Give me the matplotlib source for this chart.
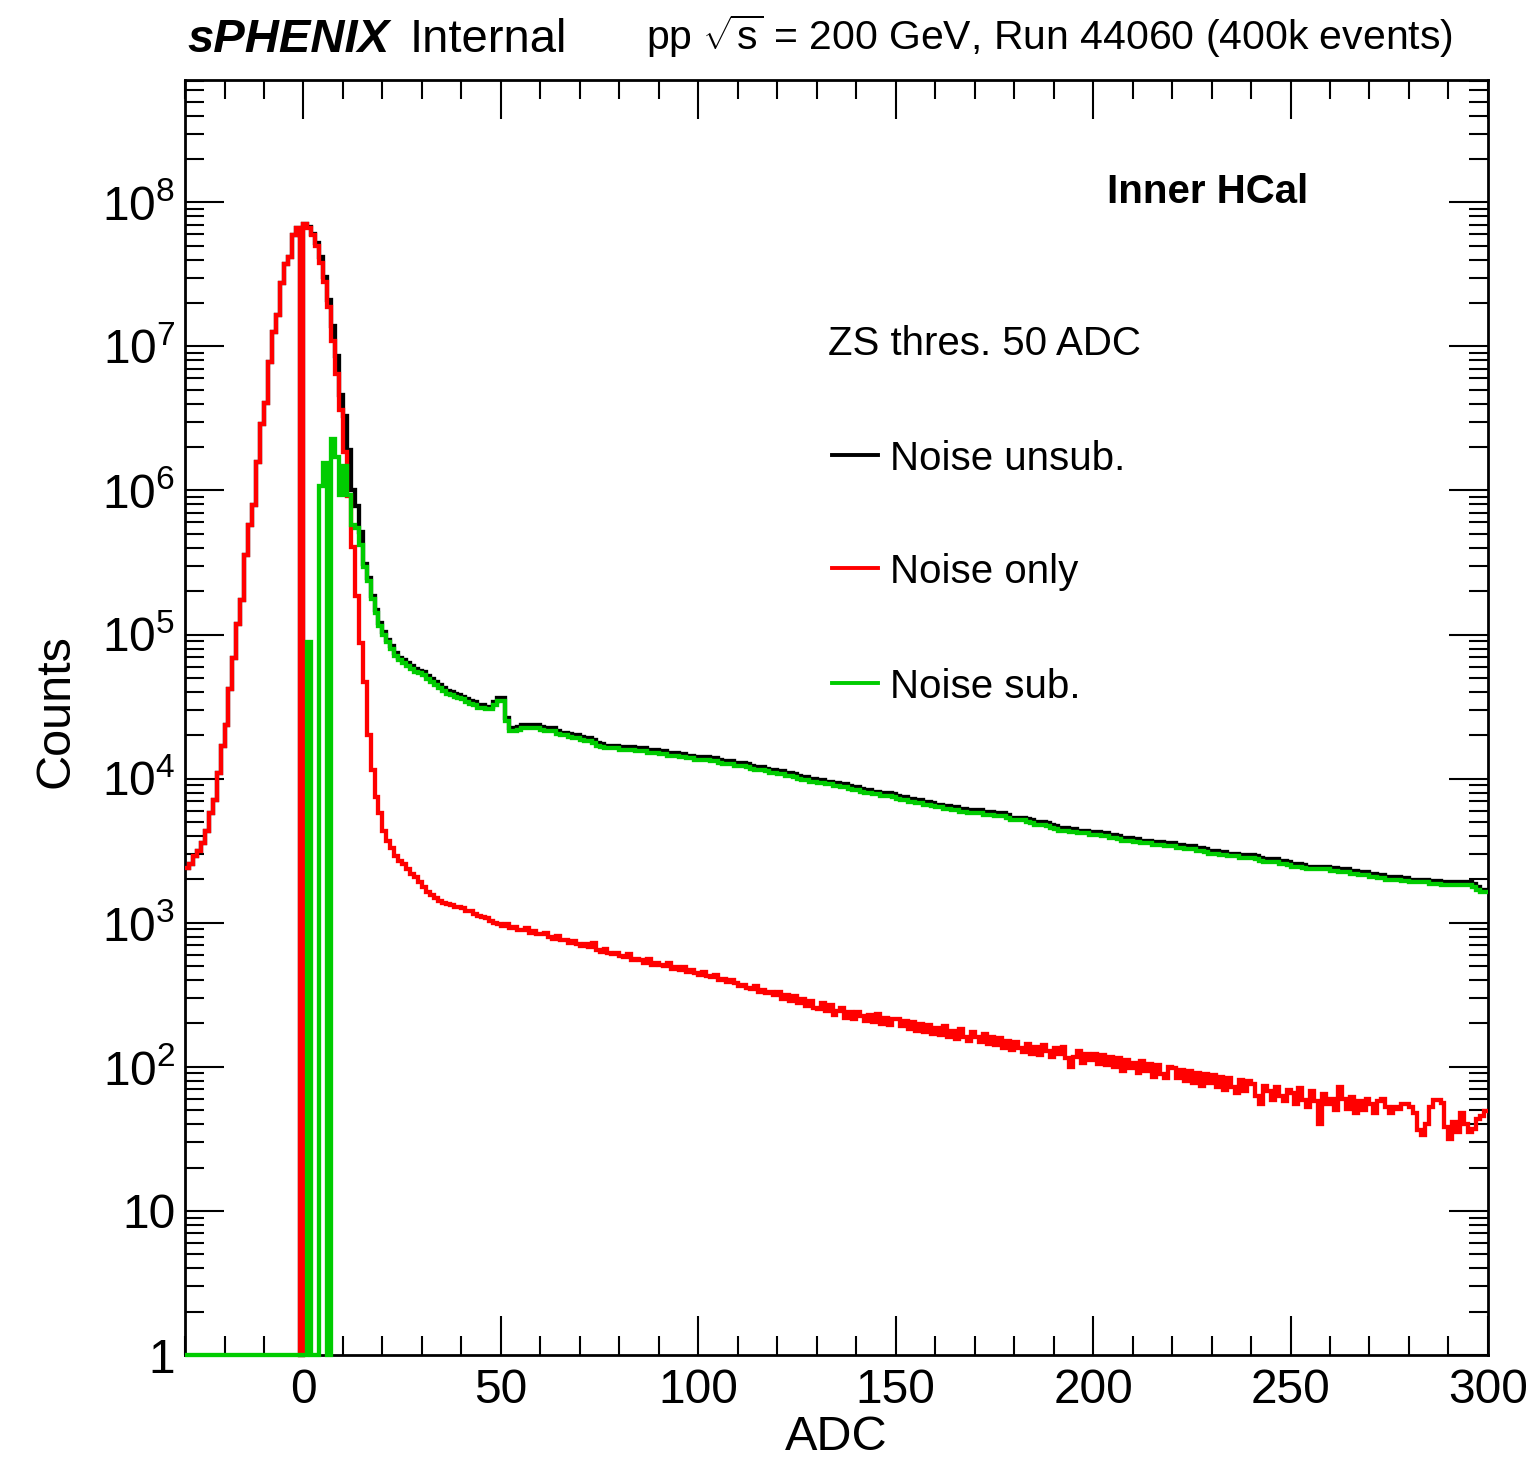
import numpy as np
import matplotlib
matplotlib.use("Agg")
import matplotlib.pyplot as plt
from matplotlib.ticker import FixedLocator, FixedFormatter, LogLocator, MultipleLocator, NullFormatter

plt.rcParams['font.family'] = ['Liberation Sans', 'DejaVu Sans']
plt.rcParams['mathtext.fontset'] = 'custom'
plt.rcParams['mathtext.rm'] = 'Liberation Sans'
plt.rcParams['mathtext.it'] = 'Liberation Sans:italic'
plt.rcParams['mathtext.bf'] = 'Liberation Sans:bold'

# 1-ADC bins from -30 to 300, values are log10(counts), None = empty bin
adc_lo, adc_hi = -30, 300

noise_unsub = [
    3.38, 3.41, 3.46, 3.50, 3.55, 3.64, 3.76, 3.85, 4.04, 4.23,
    4.37, 4.62, 4.84, 5.07, 5.24, 5.55, 5.76, 5.90, 6.20, 6.46,
    6.61, 6.89, 7.10, 7.22, 7.44, 7.57, 7.62, 7.77, 7.82, None,
    7.85, 7.83, 7.78, 7.72, 7.62, 7.48, 7.32, 7.14, 6.93, 6.66,
    6.52, 6.28, 6.00, 5.89, 5.71, 5.49, 5.39, 5.27, 5.17, 5.08,
    5.02, 4.96, 4.92, 4.87, 4.84, 4.82, 4.80, 4.78, 4.76, 4.75,
    4.74, 4.71, 4.69, 4.67, 4.65, 4.63, 4.61, 4.60, 4.59, 4.58,
    4.57, 4.55, 4.54, 4.53, 4.51, 4.51, 4.50, 4.50, 4.53, 4.56,
    4.56, 4.42, 4.35, 4.35, 4.36, 4.37, 4.37, 4.37, 4.37, 4.37,
    4.36, 4.35, 4.35, 4.35, 4.33, 4.32, 4.32, 4.31, 4.30, 4.30,
    4.29, 4.28, 4.28, 4.27, 4.25, 4.24, 4.23, 4.23, 4.23, 4.23,
    4.22, 4.22, 4.22, 4.22, 4.21, 4.21, 4.21, 4.20, 4.20, 4.20,
    4.19, 4.19, 4.18, 4.18, 4.18, 4.17, 4.17, 4.16, 4.16, 4.15,
    4.15, 4.15, 4.15, 4.14, 4.14, 4.13, 4.12, 4.12, 4.12, 4.11,
    4.11, 4.11, 4.10, 4.09, 4.08, 4.08, 4.08, 4.07, 4.06, 4.06,
    4.05, 4.05, 4.04, 4.04, 4.03, 4.02, 4.01, 4.01, 4.00, 4.00,
    3.99, 3.99, 3.98, 3.98, 3.97, 3.97, 3.96, 3.96, 3.95, 3.94,
    3.94, 3.93, 3.92, 3.92, 3.91, 3.91, 3.90, 3.90, 3.90, 3.89,
    3.88, 3.87, 3.87, 3.86, 3.86, 3.85, 3.85, 3.84, 3.84, 3.83,
    3.82, 3.82, 3.81, 3.81, 3.80, 3.80, 3.79, 3.79, 3.78, 3.78,
    3.78, 3.78, 3.77, 3.77, 3.77, 3.76, 3.76, 3.76, 3.75, 3.73,
    3.73, 3.73, 3.73, 3.72, 3.71, 3.70, 3.70, 3.70, 3.69, 3.68,
    3.67, 3.66, 3.66, 3.66, 3.65, 3.65, 3.64, 3.64, 3.64, 3.63,
    3.63, 3.63, 3.62, 3.62, 3.61, 3.61, 3.60, 3.59, 3.59, 3.59,
    3.58, 3.58, 3.57, 3.57, 3.57, 3.56, 3.56, 3.56, 3.55, 3.55,
    3.55, 3.54, 3.54, 3.53, 3.53, 3.53, 3.52, 3.52, 3.51, 3.50,
    3.50, 3.50, 3.49, 3.49, 3.48, 3.48, 3.48, 3.47, 3.47, 3.47,
    3.47, 3.46, 3.45, 3.44, 3.44, 3.44, 3.44, 3.43, 3.43, 3.42,
    3.41, 3.41, 3.41, 3.40, 3.39, 3.39, 3.39, 3.39, 3.39, 3.39,
    3.38, 3.38, 3.37, 3.37, 3.37, 3.36, 3.36, 3.35, 3.35, 3.35,
    3.34, 3.34, 3.33, 3.33, 3.32, 3.32, 3.32, 3.32, 3.31, 3.31,
    3.30, 3.30, 3.30, 3.30, 3.30, 3.29, 3.29, 3.29, 3.28, 3.28,
    3.28, 3.28, 3.28, 3.28, 3.28, 3.28, 3.27, 3.25, 3.23, 3.23,
]

noise_only = [
    3.38, 3.41, 3.46, 3.50, 3.55, 3.64, 3.76, 3.85, 4.04, 4.23,
    4.37, 4.62, 4.84, 5.07, 5.24, 5.55, 5.76, 5.90, 6.20, 6.46,
    6.61, 6.89, 7.10, 7.22, 7.44, 7.57, 7.62, 7.77, 7.82, None,
    7.85, 7.82, 7.77, 7.70, 7.58, 7.45, 7.27, 7.04, 6.81, 6.56,
    6.27, 5.96, 5.61, 5.27, 4.94, 4.67, 4.30, 4.06, 3.87, 3.76,
    3.64, 3.57, 3.52, 3.46, 3.43, 3.41, 3.37, 3.34, 3.32, 3.28,
    3.25, 3.21, 3.19, 3.17, 3.15, 3.14, 3.13, 3.12, 3.11, 3.11,
    3.10, 3.08, 3.08, 3.06, 3.05, 3.04, 3.03, 3.01, 3.00, 2.99,
    2.98, 2.99, 2.96, 2.97, 2.95, 2.95, 2.96, 2.93, 2.94, 2.92,
    2.92, 2.93, 2.90, 2.89, 2.91, 2.88, 2.88, 2.86, 2.87, 2.85,
    2.84, 2.85, 2.83, 2.86, 2.81, 2.80, 2.82, 2.79, 2.78, 2.79,
    2.77, 2.76, 2.78, 2.74, 2.75, 2.74, 2.72, 2.75, 2.71, 2.72,
    2.71, 2.70, 2.72, 2.68, 2.69, 2.67, 2.69, 2.66, 2.67, 2.65,
    2.64, 2.66, 2.63, 2.62, 2.64, 2.60, 2.61, 2.59, 2.60, 2.58,
    2.56, 2.57, 2.55, 2.54, 2.56, 2.52, 2.53, 2.51, 2.52, 2.50,
    2.52, 2.47, 2.50, 2.46, 2.49, 2.44, 2.47, 2.42, 2.46, 2.41,
    2.40, 2.44, 2.39, 2.43, 2.36, 2.39, 2.41, 2.34, 2.38, 2.33,
    2.38, 2.35, 2.32, 2.36, 2.31, 2.37, 2.30, 2.34, 2.29, 2.33,
    2.33, 2.28, 2.32, 2.26, 2.31, 2.25, 2.30, 2.24, 2.29, 2.23,
    2.27, 2.22, 2.28, 2.21, 2.25, 2.19, 2.26, 2.21, 2.18, 2.24,
    2.21, 2.17, 2.23, 2.16, 2.21, 2.15, 2.20, 2.13, 2.18, 2.12,
    2.17, 2.13, 2.10, 2.16, 2.09, 2.14, 2.08, 2.15, 2.11, 2.07,
    2.13, 2.09, 2.14, 2.06, 2.00, 2.07, 2.11, 2.03, 2.09, 2.05,
    2.09, 2.02, 2.08, 2.01, 2.07, 2.00, 2.06, 1.97, 2.05, 1.99,
    2.03, 1.96, 2.04, 1.97, 2.02, 1.93, 2.01, 1.95, 1.92, 2.00,
    1.99, 1.92, 1.98, 1.90, 1.97, 1.89, 1.96, 1.87, 1.95, 1.89,
    1.94, 1.86, 1.93, 1.84, 1.92, 1.86, 1.82, 1.91, 1.83, 1.90,
    1.88, 1.80, 1.74, 1.87, 1.83, 1.77, 1.86, 1.80, 1.76, 1.84,
    1.82, 1.74, 1.85, 1.77, 1.72, 1.83, 1.76, 1.60, 1.81, 1.74,
    1.78, 1.70, 1.86, 1.78, 1.71, 1.79, 1.68, 1.76, 1.70, 1.78,
    1.74, 1.68, 1.76, 1.78, 1.72, 1.68, 1.72, 1.71, 1.74, 1.74,
    1.72, 1.68, 1.56, 1.53, 1.60, 1.72, 1.77, 1.77, 1.75, 1.58,
    1.50, 1.62, 1.55, 1.68, 1.60, 1.55, 1.57, 1.64, 1.66, 1.69,
]

noise_sub = [
    None, None, None, None, None, None, None, None, None, None,
    None, None, None, None, None, None, None, None, None, None,
    None, None, None, None, None, None, None, None, None, None,
    None, 4.95, None, None, 6.03, 6.19, None, 6.36, 6.23, 5.97,
    6.17, 5.97, 5.76, 5.74, 5.62, 5.47, 5.37, 5.25, 5.15, 5.06,
    5.00, 4.95, 4.90, 4.85, 4.82, 4.80, 4.78, 4.76, 4.74, 4.73,
    4.72, 4.69, 4.67, 4.65, 4.63, 4.61, 4.59, 4.58, 4.57, 4.56,
    4.55, 4.53, 4.52, 4.51, 4.49, 4.49, 4.48, 4.48, 4.51, 4.54,
    4.54, 4.40, 4.33, 4.33, 4.34, 4.35, 4.35, 4.35, 4.35, 4.35,
    4.34, 4.33, 4.33, 4.33, 4.31, 4.30, 4.30, 4.29, 4.28, 4.28,
    4.27, 4.26, 4.26, 4.25, 4.23, 4.22, 4.21, 4.21, 4.21, 4.21,
    4.20, 4.20, 4.20, 4.20, 4.19, 4.19, 4.19, 4.18, 4.18, 4.18,
    4.17, 4.17, 4.16, 4.16, 4.16, 4.15, 4.15, 4.14, 4.14, 4.13,
    4.13, 4.13, 4.13, 4.12, 4.12, 4.11, 4.10, 4.10, 4.10, 4.09,
    4.09, 4.09, 4.08, 4.07, 4.06, 4.06, 4.06, 4.05, 4.04, 4.04,
    4.03, 4.03, 4.02, 4.02, 4.01, 4.00, 3.99, 3.99, 3.98, 3.98,
    3.97, 3.97, 3.96, 3.96, 3.95, 3.95, 3.94, 3.94, 3.93, 3.92,
    3.92, 3.91, 3.90, 3.90, 3.89, 3.89, 3.88, 3.88, 3.88, 3.87,
    3.86, 3.85, 3.85, 3.84, 3.84, 3.83, 3.83, 3.82, 3.82, 3.81,
    3.80, 3.80, 3.79, 3.79, 3.78, 3.78, 3.77, 3.77, 3.76, 3.76,
    3.76, 3.76, 3.75, 3.75, 3.75, 3.74, 3.74, 3.74, 3.73, 3.71,
    3.71, 3.71, 3.71, 3.70, 3.69, 3.68, 3.68, 3.68, 3.67, 3.66,
    3.65, 3.64, 3.64, 3.64, 3.63, 3.63, 3.62, 3.62, 3.62, 3.61,
    3.61, 3.61, 3.60, 3.60, 3.59, 3.59, 3.58, 3.57, 3.57, 3.57,
    3.56, 3.56, 3.55, 3.55, 3.55, 3.54, 3.54, 3.54, 3.53, 3.53,
    3.53, 3.52, 3.52, 3.51, 3.51, 3.51, 3.50, 3.50, 3.49, 3.48,
    3.48, 3.48, 3.47, 3.47, 3.46, 3.46, 3.46, 3.45, 3.45, 3.45,
    3.45, 3.44, 3.43, 3.42, 3.42, 3.42, 3.42, 3.41, 3.41, 3.40,
    3.39, 3.39, 3.39, 3.38, 3.37, 3.37, 3.37, 3.37, 3.37, 3.37,
    3.36, 3.36, 3.35, 3.35, 3.35, 3.34, 3.34, 3.33, 3.33, 3.33,
    3.32, 3.32, 3.31, 3.31, 3.30, 3.30, 3.30, 3.30, 3.29, 3.29,
    3.28, 3.28, 3.28, 3.28, 3.28, 3.27, 3.27, 3.27, 3.26, 3.26,
    3.26, 3.26, 3.26, 3.26, 3.26, 3.26, 3.25, 3.23, 3.21, 3.21,
]

series_labels = ["Noise unsub.", "Noise only", "Noise sub."]
series_colors = ["#000000", "#ff0000", "#00cc00"]
ytick_values = [1, 10, 1e2, 1e3, 1e4, 1e5, 1e6, 1e7, 1e8]
ytick_labels = ["1", "10", "$10^{2}$", "$10^{3}$", "$10^{4}$",
                "$10^{5}$", "$10^{6}$", "$10^{7}$", "$10^{8}$"]
y_min, y_max = 1.0, 7.05e8


def to_counts(logs):
    # empty bins are drawn on the bottom of the frame, like ROOT does
    return np.array([10 ** v if v is not None else y_min for v in logs])


edges = np.arange(adc_lo, adc_hi + 1)

fig = plt.figure(figsize=(15.33, 14.69), dpi=100)
ax = fig.add_axes([0.1207, 0.0776, 0.8499, 0.8679])

for vals, col in zip([noise_unsub, noise_only, noise_sub], series_colors):
    ax.stairs(to_counts(vals), edges, baseline=None, color=col, lw=3.1,
              clip_on=False, zorder=3)

ax.set_yscale("log")
ax.set_xlim(adc_lo, adc_hi)
ax.set_ylim(y_min, y_max)

ax.yaxis.set_major_locator(FixedLocator(ytick_values))
ax.yaxis.set_major_formatter(FixedFormatter(ytick_labels))
ax.yaxis.set_minor_locator(LogLocator(base=10, subs=np.arange(2, 10), numticks=20))
ax.yaxis.set_minor_formatter(NullFormatter())
ax.xaxis.set_major_locator(MultipleLocator(50))
ax.xaxis.set_minor_locator(MultipleLocator(10))

ax.tick_params(which="both", direction="in", top=True, right=True,
               labelsize=34.5, width=1.5)
ax.tick_params(which="major", length=28)
ax.tick_params(which="minor", length=14)
ax.tick_params(axis="y", pad=7)
ax.tick_params(axis="x", pad=9)
for sp in ax.spines.values():
    sp.set_linewidth(2.0)

ax.set_xlabel("ADC", fontsize=35)
ax.xaxis.set_label_coords(0.5, -0.047)
ax.set_ylabel("Counts", fontsize=35)
ax.yaxis.set_label_coords(-0.082, 0.505)

# header
fig.text(0.122, 0.9646, "sPHENIX", fontsize=34, fontweight="bold",
         fontstyle="italic", va="baseline", ha="left")
fig.text(0.2675, 0.9646, "Internal", fontsize=34, va="baseline", ha="left")
fig.text(0.948, 0.9660, r"pp $\sqrt{\mathrm{s}}$ = 200 GeV, Run 44060 (400k events)",
         fontsize=29.5, va="baseline", ha="right")

ax.text(0.7076, 0.9035, "Inner HCal", fontsize=29, fontweight="bold",
        transform=ax.transAxes, va="baseline", ha="left")
ax.text(0.4935, 0.784, "ZS thres. 50 ADC", fontsize=29,
        transform=ax.transAxes, va="baseline", ha="left")

# legend entries
leg_y = [0.7059, 0.6173, 0.5271]
for lab, col, yy in zip(series_labels, series_colors, leg_y):
    ax.plot([0.4965, 0.5318], [yy, yy], color=col, lw=2.8,
            transform=ax.transAxes)
    ax.text(0.5411, yy, lab, fontsize=29, transform=ax.transAxes,
            va="center_baseline", ha="left")

fig.savefig("out.png", dpi=100)
